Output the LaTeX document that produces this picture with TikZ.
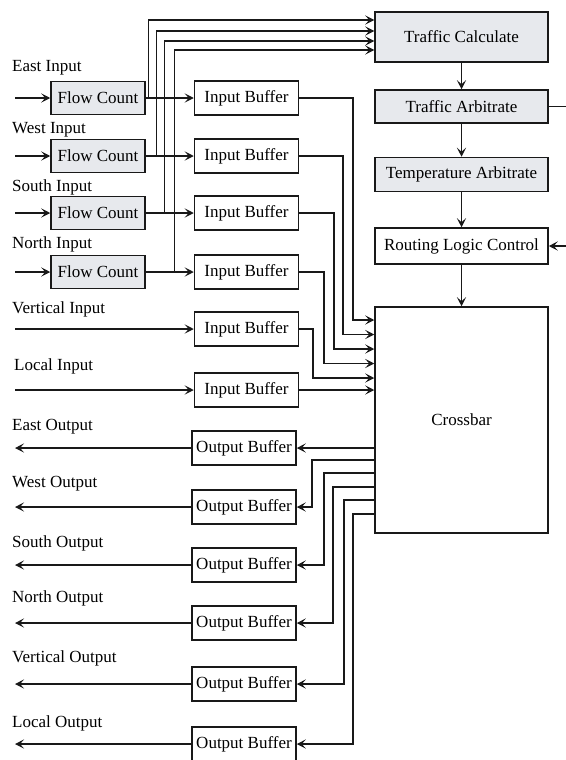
\documentclass[tikz,border=0pt]{standalone}
\usepackage{fontspec}
\setmainfont{Liberation Serif}
\usepackage{tikz}
\usetikzlibrary{
  arrows.meta,  % Stealth 箭头样式
  calc,         % 坐标计算
  positioning   % 节点相对定位
}
\definecolor{blockgray}{RGB}{231,233,237}
\definecolor{linecol}{RGB}{25,25,25}
\tikzset{
  block/.style={
    draw=linecol,
    line width=1.5pt,
    fill=white,
    inner sep=0pt,
    font=\fontsize{17}{19}\selectfont
  },
  gray block/.style={
    block,
    fill=blockgray
  },
  counter/.style={
    minimum width=94pt,
    minimum height=33pt
  },
  buffer/.style={
    minimum width=104pt,
    minimum height=34pt
  },
  ctrl/.style={
    minimum width=173pt,
    minimum height=34pt
  },
  link/.style={
    ->,
    line width=1.3pt,
    color=linecol
  },
  port label/.style={
    anchor=base west,
    inner sep=0pt,
    font=\fontsize{17}{19}\selectfont
  }
}

\begin{document}
\begin{tikzpicture}[x=1pt, y=-1pt, >={Stealth[length=9pt,width=9pt,inset=4pt]}]
    \useasboundingbox (0,0) rectangle (565,760);

    % 右侧控制通路（自上而下）
    \node[gray block, ctrl, minimum height=50pt] (tc) at (461.5,37) {Traffic Calculate};
    \node[gray block, ctrl, minimum height=33pt] (ta) at (461.5,106.5) {Traffic Arbitrate};
    \node[gray block, ctrl] (tpa) at (461.5,174.5) {Temperature Arbitrate};
    \node[block, ctrl, minimum height=36pt] (rlc) at (461.5,246) {Routing Logic Control};
    \node[block, ctrl, minimum height=226pt] (cb) at (461.5,420) {Crossbar};

    \draw[link] (tc.south) -- (ta.north);
    \draw[link] (ta.south) -- (tpa.north);
    \draw[link] (tpa.south) -- (rlc.north);
    \draw[link] (rlc.south) -- (cb.north);
    \draw[link] (ta.east) -- ++(18,0) |- (rlc.east);  % 右侧反馈（竖线在画面边缘外）

    % 四个方向输入：标签、流量计数、输入缓冲
    \foreach \i/\yy/\ly/\name in {1/98/71/East, 2/156/133/West, 3/213/191/South, 4/272/248/North} {
      \node[port label] (inl\i) at (12,\ly) {\name\ Input};
      \node[gray block, counter] (fc\i) at (98,\yy) {Flow Count};
      \node[block, buffer] (ib\i) at (246.5,\yy) {Input Buffer};
      \draw[link] (fc\i.west -| 15,0) -- (fc\i.west);
      \draw[link] (fc\i.east) -- (ib\i.west);
    }

    % 垂直与本地输入
    \node[port label] (inl5) at (12,313) {Vertical Input};
    \node[block, buffer] (ib5) at (246.5,329) {Input Buffer};
    \node[port label] (inl6) at (14,370) {Local Input};
    \node[block, buffer] (ib6) at (246.5,390) {Input Buffer};
    \draw[link] (ib5.west -| 15,0) -- (ib5.west);
    \draw[link] (ib6.west -| 15,0) -- (ib6.west);

    % 流量计数送往 Traffic Calculate
    \foreach \i/\dx/\dy in {1/3/17, 2/11/6, 3/19/-4, 4/29/-13}
      \draw[link] ([xshift=\dx pt]fc\i.east) |- ([yshift=\dy pt]tc.west);

    % 输入缓冲送往交叉开关
    \foreach \i/\xx/\yy in {1/353/320, 2/343/334.5, 3/334/349, 4/324/363.5, 5/313/378}
      \draw[link] (ib\i.east) -| (\xx,\yy) -- (cb.west |- 0,\yy);
    \draw[link] (ib6.east) -- (cb.west |- ib6.east);

    % 六个输出：标签、输出缓冲
    \foreach \i/\yy/\ly/\name in {1/448/430/East, 2/507/487/West, 3/565/547/South,
                                  4/623/602/North, 5/684/662/Vertical, 6/744/727/Local} {
      \node[block, buffer] (ob\i) at (244,\yy) {Output Buffer};
      \node[port label] (outl\i) at (12,\ly) {\name\ Output};
      \draw[link] (ob\i.west) -- (ob\i.west -| 15,0);
    }

    % 交叉开关送往输出缓冲
    \draw[link] (cb.west |- ob1.east) -- (ob1.east);
    \foreach \i/\xx/\yy in {2/312/460, 3/324/473, 4/333/487, 5/344/500, 6/353/514}
      \draw[link] (cb.west |- 0,\yy) -| (ob\i.east -| \xx,0) -- (ob\i.east);

\end{tikzpicture}
\end{document}
